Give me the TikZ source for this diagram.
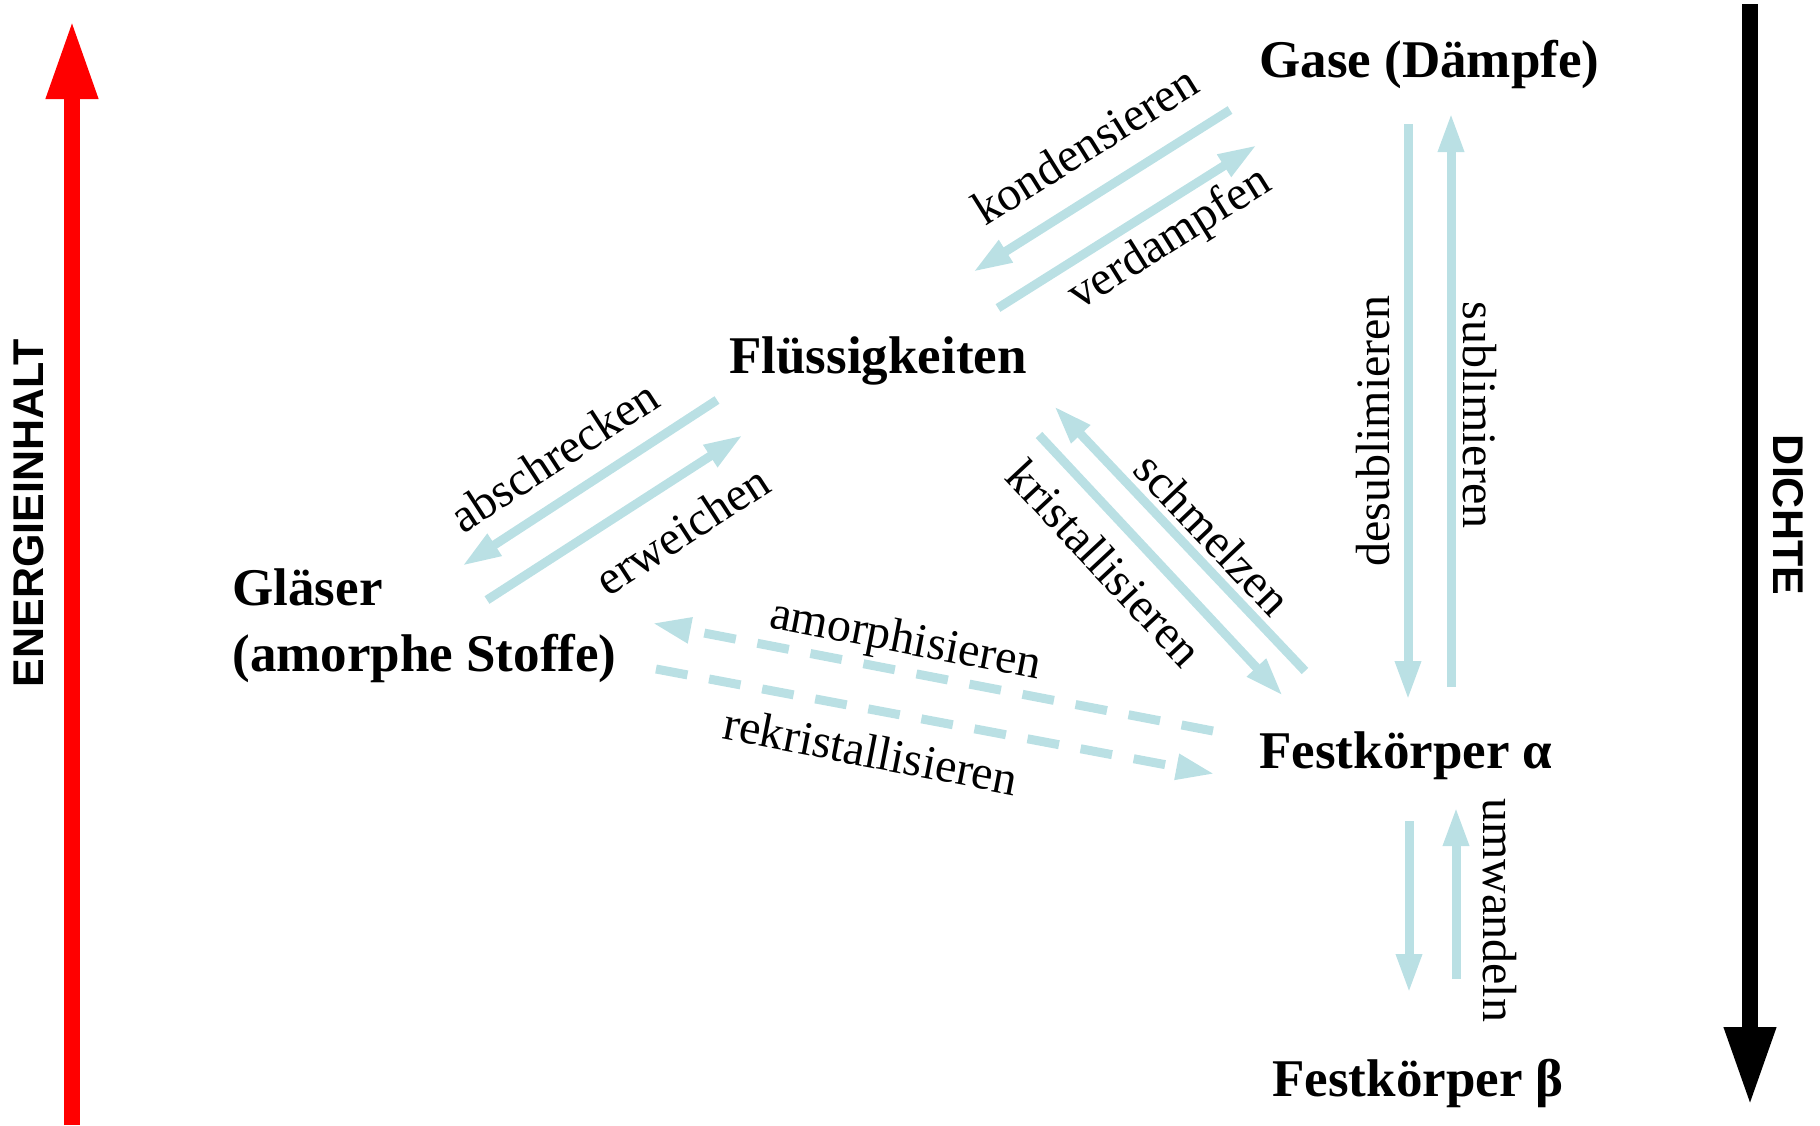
\documentclass[tikz,border=0pt]{standalone}
\usepackage{fontspec}
\setmainfont{Liberation Serif}
\newfontfamily\axisfont{Liberation Sans}
\usetikzlibrary{arrows.meta}
\definecolor{flow}{RGB}{186,224,228}
\definecolor{energyred}{RGB}{255,0,0}
\begin{document}
\begin{tikzpicture}[x=0.5pt,y=-0.5pt,
  state/.style={font=\fontsize{26.5}{33}\selectfont\bfseries, inner sep=0pt, align=left},
  lbl/.style={font=\fontsize{24}{28}\selectfont, inner sep=0pt},
  axislbl/.style={font=\axisfont\bfseries\fontsize{21.5}{24}\selectfont, inner sep=0pt},
  flowarrow/.style={draw=flow, line width=4.5pt, -{Triangle[length=19.5pt,width=12pt]}},
  flowdashed/.style={flowarrow, dash pattern=on 16pt off 11pt},
  axisarrow/.style={line width=8pt, -{Triangle[length=39.5pt,width=24pt]}}]
\useasboundingbox (0,0) rectangle (1820,1125);

% axes
\coordinate (eA) at (72,1125);
\coordinate (eB) at (72,20);
\draw[axisarrow, energyred] (eA) -- (eB);
\node[axislbl, rotate=90] (energie) at (28.5,513) {ENERGIEINHALT};
\coordinate (dA) at (1750,4);
\coordinate (dB) at (1750,1106);
\draw[axisarrow, black] (dA) -- (dB);
\node[axislbl, rotate=-90] (dichte) at (1788,515) {DICHTE};

% states
\node[state, anchor=base west] (gase) at (1259,77) {Gase (Dämpfe)};
\node[state, anchor=base west] (fluessig) at (729,373) {Flüssigkeiten};
\node[state, anchor=base west] (glaeser) at (232,671) {Gläser\\(amorphe Stoffe)};
\node[state, anchor=base west] (festa) at (1259,768) {Festkörper α};
\node[state, anchor=base west] (festb) at (1272,1096) {Festkörper β};

% connector end points
\coordinate (konS) at (1230,110);  \coordinate (konE) at (973,272);
\coordinate (verS) at (998,308);   \coordinate (verE) at (1257,145);
\coordinate (absS) at (717,400);   \coordinate (absE) at (462,566);
\coordinate (erwS) at (487,600);   \coordinate (erwE) at (743,435);
\coordinate (schS) at (1305,671);  \coordinate (schE) at (1054,406);
\coordinate (kriS) at (1039,435);  \coordinate (kriE) at (1283,696);
\coordinate (amoS) at (1213,731);  \coordinate (amoE) at (652,623);
\coordinate (rekS) at (656,669);   \coordinate (rekE) at (1215,774);
\coordinate (desS) at (1408,124);  \coordinate (desE) at (1408,700);
\coordinate (subS) at (1451,687);  \coordinate (subE) at (1451,113);
\coordinate (abS) at (1409,821);   \coordinate (abE) at (1409,993);
\coordinate (baS) at (1456,979);   \coordinate (baE) at (1456,807);

\draw[flowarrow] (konS) -- (konE);
\draw[flowarrow] (verS) -- (verE);
\draw[flowarrow] (absS) -- (absE);
\draw[flowarrow] (erwS) -- (erwE);
\draw[flowarrow] (schS) -- (schE);
\draw[flowarrow] (kriS) -- (kriE);
\draw[flowdashed] (amoS) -- (amoE);
\draw[flowdashed] (rekS) -- (rekE);
\draw[flowarrow] (desS) -- (desE);
\draw[flowarrow] (subS) -- (subE);
\draw[flowarrow] (abS) -- (abE);
\draw[flowarrow] (baS) -- (baE);

% labels
\node[lbl, rotate=32] (lkon) at (1085,145) {kondensieren};
\node[lbl, rotate=32] (lver) at (1170,240) {verdampfen};
\node[lbl, rotate=33] (labs) at (554,456) {abschrecken};
\node[lbl, rotate=33] (lerw) at (682,530) {erweichen};
\node[lbl, rotate=-46.5] (lsch) at (1213,534) {schmelzen};
\node[lbl, rotate=-47] (lkri) at (1105,563) {kristallisieren};
\node[lbl, rotate=-11] (lamo) at (905,642) {amorphisieren};
\node[lbl, rotate=-11] (lrek) at (871,751) {rekristallisieren};
\node[lbl, rotate=90] (ldes) at (1373,431) {desublimieren};
\node[lbl, rotate=-90] (lsub) at (1480,415) {sublimieren};
\node[lbl, rotate=-90] (lumw) at (1500,910) {umwandeln};
\end{tikzpicture}
\end{document}
